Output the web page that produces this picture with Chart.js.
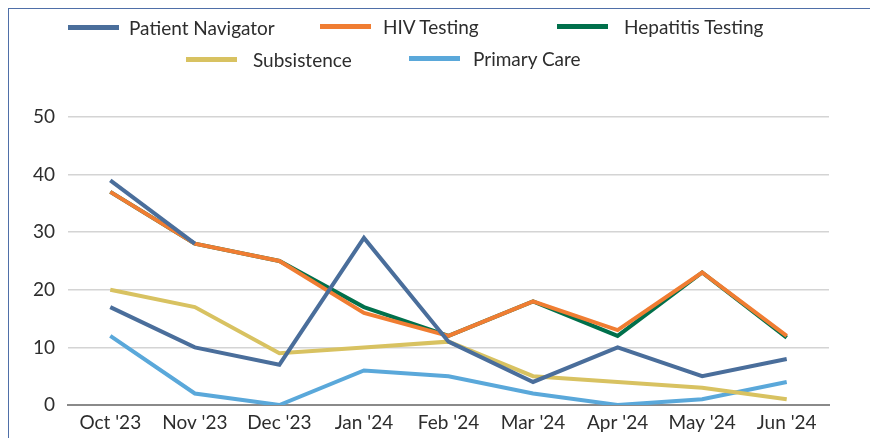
<!DOCTYPE html>
<html>
<head>
<meta charset="utf-8">
<script src="https://cdn.jsdelivr.net/npm/chart.js@4.4.1/dist/chart.umd.min.js"></script>
<style>
  html, body { margin: 0; padding: 0; background: #fff; }
  #wrap { position: relative; width: 870px; height: 438px; overflow: hidden; font-family: Lato, "Open Sans", sans-serif; }
  #frame { position: absolute; left: 8px; top: 8px; width: 900px; height: 500px; border-left: 1.5px solid #4f6fa8; border-top: 1.5px solid #4f6fa8; box-sizing: border-box; }
  canvas { position: absolute; left: 0; top: 0; }
  .lg { position: absolute; display: flex; align-items: center; font-size: 19px; color: #2d2d2d; white-space: nowrap; }
  .lg .sw { width: 51px; height: 5px; }
</style>
</head>
<body>
<div id="wrap">
  <div id="frame"></div>
  <canvas id="c" width="870" height="438"></canvas>
  <div id="legend"></div>
</div>
<script>
const categories = ["Oct '23", "Nov '23", "Dec '23", "Jan '24", "Feb '24", "Mar '24", "Apr '24", "May '24", "Jun '24"];
const patientNavigator = [17, 10, 7, 29, 11, 4, 10, 5, 8];
const patientNavigatorStart = [39, 28, null, null, null, null, null, null, null];
const hivTesting = [37, 28, 25, 16, 12, 18, 13, 23, 12];
const hepatitisTesting = [37, 28, 25, 17, 12, 18, 12, 23, 11.7];
const subsistence = [20, 17, 9, 10, 11, 5, 4, 3, 1];
const primaryCare = [12, 2, 0, 6, 5, 2, 0, 1, 4];
const yTicks = [0, 10, 20, 30, 40, 50];

const series = [
  { label: "Patient Navigator", data: patientNavigator, color: "#4a6e9b", legend: [68, 28, 10] },
  { label: "Patient Navigator", data: patientNavigatorStart, color: "#4a6e9b", legend: null },
  { label: "HIV Testing", data: hivTesting, color: "#f07d32", legend: [320, 27, 12] },
  { label: "Hepatitis Testing", data: hepatitisTesting, color: "#00704b", legend: [557, 27, 16] },
  { label: "Subsistence", data: subsistence, color: "#d8c261", legend: [186, 60, 16] },
  { label: "Primary Care", data: primaryCare, color: "#5aa8da", legend: [409, 59, 13] }
];

const lg = document.getElementById('legend');
series.forEach(s => {
  if (!s.legend) return;
  const d = document.createElement('div');
  d.className = 'lg';
  d.style.left = s.legend[0] + 'px';
  d.style.top = (s.legend[1] - 12) + 'px';
  d.innerHTML = '<span class="sw" style="background:' + s.color + ';margin-right:' + s.legend[2] + 'px"></span><span>' + s.label + '</span>';
  lg.appendChild(d);
});

new Chart(document.getElementById('c'), {
  type: 'line',
  data: {
    labels: categories,
    datasets: series.map(s => ({
      label: s.label,
      data: s.data,
      borderColor: s.color,
      backgroundColor: s.color,
      borderWidth: 4,
      pointRadius: 0,
      tension: 0,
      fill: false,
      spanGaps: false
    }))
  },
  options: {
    responsive: false,
    animation: false,
    layout: { padding: { top: 117, right: 41, left: 0, bottom: 0 } },
    plugins: { legend: { display: false }, tooltip: { enabled: false } },
    scales: {
      x: {
        offset: true,
        grid: { display: false, drawTicks: false },
        border: { display: true, color: '#8a8a8a', width: 2 },
        ticks: { color: '#2d2d2d', font: { family: 'Lato', size: 19 }, padding: 6, maxRotation: 0, autoSkip: false },
        afterFit: s => { s.height = 33; }
      },
      y: {
        min: 0, max: 50,
        afterBuildTicks: s => { s.ticks = yTicks.map(v => ({ value: v })); },
        grid: { color: '#d4d4d4', lineWidth: 1.5, drawTicks: false },
        border: { display: false },
        ticks: { color: '#2d2d2d', font: { family: 'Lato', size: 19 }, padding: 13 },
        afterFit: s => { s.width = 68; }
      }
    }
  }
});
</script>
</body>
</html>
